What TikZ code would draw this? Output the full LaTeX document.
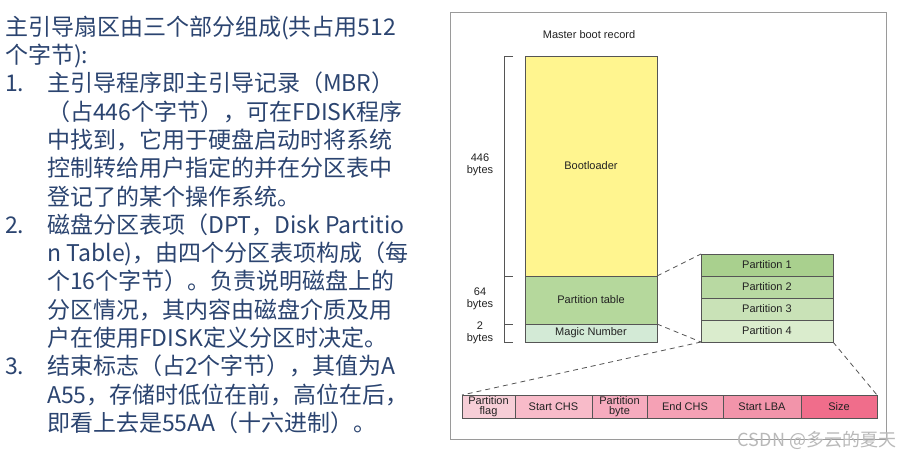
\documentclass[tikz,border=0pt]{standalone}
\usepackage{fontspec}
\usepackage{xcolor}
\usepackage{tikz}
\usetikzlibrary{positioning}
\setmainfont{Liberation Sans}
\newfontfamily\cjkfont{Noto Sans CJK SC}
\definecolor{notetext}{HTML}{2B4470}
\definecolor{labeltext}{HTML}{222222}
\definecolor{boxline}{HTML}{555555}
\definecolor{framegray}{HTML}{9A9A9A}
\definecolor{bootyellow}{HTML}{FFF58F}
\definecolor{tablegreen}{HTML}{B5D89C}
\definecolor{magicgreen}{HTML}{D3EAD6}
\definecolor{partone}{HTML}{A9D08E}
\definecolor{parttwo}{HTML}{B8D9A2}
\definecolor{partthree}{HTML}{C9E2B7}
\definecolor{partfour}{HTML}{DAECCD}
\definecolor{pinkone}{HTML}{F7CED7}
\definecolor{pinktwo}{HTML}{F8BBC9}
\definecolor{pinkthree}{HTML}{F6ABBE}
\definecolor{pinkfour}{HTML}{F5A1B5}
\definecolor{pinkfive}{HTML}{F294AA}
\definecolor{pinksix}{HTML}{F06D8B}
\tikzstyle{note} = [inner sep=0pt, text=notetext, font=\cjkfont\fontsize{23}{28.3}\selectfont]
\tikzstyle{field} = [draw=boxline, line width=0.7pt, inner sep=0pt, outer sep=0pt, align=center, text=labeltext, font=\fontsize{11}{9.5}\selectfont]
\tikzstyle{sizelabel} = [inner sep=0pt, align=center, text=labeltext, font=\fontsize{11}{12.5}\selectfont]
\tikzstyle{zoomline} = [draw=boxline, line width=0.8pt, dash pattern=on 5pt off 4pt]
\tikzstyle{bracket} = [draw=boxline, line width=0.8pt]

\begin{document}
\begin{tikzpicture}[x=1pt, y=-1pt]
    \useasboundingbox[fill=white] (0,0) rectangle (919,459);

    % notes on the left
    \node[note, anchor=north west] (notes) at (5,15.2) {%
        \begin{tabular}{@{}p{42pt}@{}l@{}}
        \multicolumn{2}{@{}l@{}}{主引导扇区由三个部分组成(共占用512}\\
        \multicolumn{2}{@{}l@{}}{个字节):}\\
        1. & 主引导程序即主引导记录（MBR）\\
           & （占446个字节），可在FDISK程序\\
           & 中找到，它用于硬盘启动时将系统\\
           & 控制转给用户指定的并在分区表中\\
           & 登记了的某个操作系统。\\
        2. & 磁盘分区表项（DPT，Disk Partitio\\
           & n Table)，由四个分区表项构成（每\\
           & 个16个字节）。负责说明磁盘上的\\
           & 分区情况，其内容由磁盘介质及用\\
           & 户在使用FDISK定义分区时决定。\\
        3. & 结束标志（占2个字节），其值为A\\
           & A55，存储时低位在前，高位在后，\\
           & 即看上去是55AA（十六进制）。
        \end{tabular}};

    % right panel
    \draw[framegray, line width=0.8pt] (450,12) rectangle (886,439);
    \node[sizelabel] (mbrtitle) at (589,35) {Master boot record};

    \node[field, fill=bootyellow, minimum width=132pt, minimum height=220pt] (boot) at (591,166) {Bootloader};
    \node[field, fill=tablegreen, minimum width=132pt, minimum height=48pt, below=0pt of boot] (ptable) {Partition table};
    \node[field, fill=magicgreen, minimum width=132pt, minimum height=18pt, below=0pt of ptable] (magic) {Magic Number};

    % byte counts
    \draw[bracket] ([xshift=-12pt]boot.north west) -- ([xshift=-21pt]boot.north west) -- ([xshift=-21pt]magic.south west) -- ([xshift=-12pt]magic.south west);
    \draw[bracket] ([xshift=-21pt]ptable.north west) -- ([xshift=-12pt]ptable.north west);
    \draw[bracket] ([xshift=-21pt]magic.north west) -- ([xshift=-12pt]magic.north west);
    \node[sizelabel] (bootbytes) at (480,165) {446\\bytes};
    \node[sizelabel] (tablebytes) at (480,299) {64\\bytes};
    \node[sizelabel] (magicbytes) at (480,333) {2\\bytes};

    % partition table entries
    \node[field, fill=partone, minimum width=132pt, minimum height=22pt] (p1) at (767,265) {Partition 1};
    \node[field, fill=parttwo, minimum width=132pt, minimum height=22pt, below=0pt of p1] (p2) {Partition 2};
    \node[field, fill=partthree, minimum width=132pt, minimum height=22pt, below=0pt of p2] (p3) {Partition 3};
    \node[field, fill=partfour, minimum width=132pt, minimum height=22pt, below=0pt of p3] (p4) {Partition 4};

    % one entry
    \node[field, fill=pinkone, minimum width=53pt, minimum height=23pt] (flag) at (488.5,406.5) {Partition\\flag};
    \node[field, fill=pinktwo, minimum width=77pt, minimum height=23pt, right=0pt of flag] (startchs) {Start CHS};
    \node[field, fill=pinkthree, minimum width=55pt, minimum height=23pt, right=0pt of startchs] (ptbyte) {Partition\\byte};
    \node[field, fill=pinkfour, minimum width=76pt, minimum height=23pt, right=0pt of ptbyte] (endchs) {End CHS};
    \node[field, fill=pinkfive, minimum width=78pt, minimum height=23pt, right=0pt of endchs] (startlba) {Start LBA};
    \node[field, fill=pinksix, minimum width=76pt, minimum height=23pt, right=0pt of startlba] (size) {Size};

    \draw[zoomline] (boot.south east) -- (p1.north west);
    \draw[zoomline] (magic.north east) -- (p4.south west);
    \draw[zoomline] (p4.south west) -- (flag.north west);
    \draw[zoomline] (p4.south east) -- (size.north east);

    \node[text=gray!55, font=\cjkfont\fontsize{18}{18}\selectfont] (mark) at (817,440) {CSDN @多云的夏天};
\end{tikzpicture}
\end{document}
